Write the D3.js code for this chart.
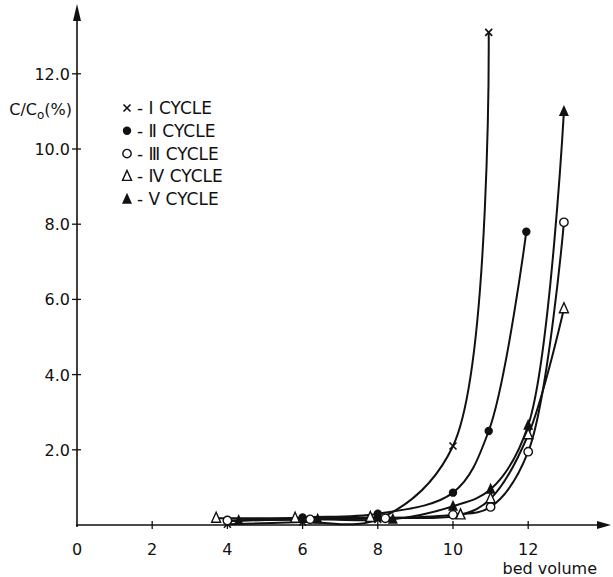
<!DOCTYPE html>
<html>
<head>
<meta charset="utf-8">
<script src="https://cdn.jsdelivr.net/npm/d3@7"></script>
<style>
    body { margin: 0; background: #fff; }
    svg text { font-family: "DejaVu Sans", sans-serif; fill: #111; }
</style>
</head>
<body>
<div id="chart"></div>
<script>
// bed volume / C/Co (%)
const cycle1 = [[4.0, 0.02], [6.0, 0.08], [8.0, 0.15], [10.0, 2.1], [10.95, 13.1]];
const cycle2 = [[4.0, 0.1], [6.0, 0.2], [8.0, 0.3], [10.0, 0.86], [10.95, 2.5], [11.95, 7.8]];
const cycle3 = [[4.0, 0.12], [6.2, 0.15], [8.2, 0.18], [10.0, 0.27], [11.0, 0.48], [12.0, 1.95], [12.95, 8.05]];
const cycle4 = [[3.7, 0.18], [5.8, 0.18], [7.8, 0.2], [10.2, 0.27], [11.0, 0.7], [12.0, 2.4], [12.95, 5.75]];
const cycle5 = [[4.3, 0.12], [6.4, 0.15], [8.4, 0.15], [10.0, 0.5], [11.0, 0.95], [12.0, 2.65], [12.95, 11.0]];

const seriesNames = ["Ⅰ CYCLE", "Ⅱ CYCLE", "Ⅲ CYCLE", "Ⅳ CYCLE", "Ⅴ CYCLE"];
const seriesMarkers = ["cross", "dot", "ring", "openTri", "fillTri"];

const xTicks = [0, 2, 4, 6, 8, 10, 12];
const yTicks = [2, 4, 6, 8, 10, 12];

const xLabel = "bed volume";

const size = { width: 613, height: 577 };

function init() {
    const svg = d3.select("#chart").append("svg")
        .attr("width", size.width)
        .attr("height", size.height);

    // axis origin at (77, 525), ~37.6 px per unit
    const x = d3.scaleLinear().domain([0, 14]).range([77, 77 + 14 * 37.6]);
    const y = d3.scaleLinear().domain([0, 13.8]).range([525, 525 - 13.8 * 37.6]);

    drawAxes(svg, x, y);

    const allSeries = [cycle1, cycle2, cycle3, cycle4, cycle5];
    const line = d3.line()
        .x(d => x(d[0]))
        .y(d => y(d[1]))
        .curve(d3.curveCatmullRom.alpha(0.5));

    allSeries.forEach(series => {
        svg.append("path")
            .datum(series)
            .attr("d", line)
            .attr("fill", "none")
            .attr("stroke", "#111")
            .attr("stroke-width", 2);
    });

    allSeries.forEach((series, i) => {
        series.forEach(d => drawMarker(svg, seriesMarkers[i], x(d[0]), y(d[1])));
    });

    drawLegend(svg);
}

function drawAxes(svg, x, y) {
    const axisColor = "#111";

    // y axis with arrow
    svg.append("line")
        .attr("x1", x(0)).attr("x2", x(0))
        .attr("y1", y(0) + 2).attr("y2", 16)
        .attr("stroke", axisColor).attr("stroke-width", 1.6);
    svg.append("path")
        .attr("d", `M${x(0)},4 L${x(0) - 4},21 L${x(0) + 4},21 Z`)
        .attr("fill", axisColor);

    // x axis with arrow
    svg.append("line")
        .attr("x1", x(0) - 1).attr("x2", 600)
        .attr("y1", y(0)).attr("y2", y(0))
        .attr("stroke", axisColor).attr("stroke-width", 1.6);
    svg.append("path")
        .attr("d", `M611,${y(0)} L597,${y(0) - 4} L597,${y(0) + 4} Z`)
        .attr("fill", axisColor);

    const xg = svg.append("g");
    xTicks.forEach(t => {
        if (t > 0) {
            xg.append("line")
                .attr("x1", x(t)).attr("x2", x(t))
                .attr("y1", y(0) - 4).attr("y2", y(0) + 4)
                .attr("stroke", axisColor).attr("stroke-width", 1.3);
        }
        xg.append("text")
            .attr("x", x(t))
            .attr("y", y(0) + 30)
            .attr("text-anchor", "middle")
            .attr("font-size", 16)
            .text(t);
    });

    const yg = svg.append("g");
    yTicks.forEach(t => {
        yg.append("line")
            .attr("x1", x(0) - 5).attr("x2", x(0) + 4)
            .attr("y1", y(t)).attr("y2", y(t))
            .attr("stroke", axisColor).attr("stroke-width", 1.3);
        yg.append("text")
            .attr("x", x(0) - 7)
            .attr("y", y(t) + 6)
            .attr("text-anchor", "end")
            .attr("font-size", 16)
            .text(t.toFixed(1));
    });

    // axis titles
    const yTitle = svg.append("text")
        .attr("x", 72)
        .attr("y", 115)
        .attr("text-anchor", "end")
        .attr("font-size", 16);
    yTitle.append("tspan").text("C/C");
    yTitle.append("tspan").attr("font-size", 12).attr("dy", 4).text("o");
    yTitle.append("tspan").attr("dy", -4).text("(%)");

    svg.append("text")
        .attr("x", 597)
        .attr("y", 574)
        .attr("text-anchor", "end")
        .attr("font-size", 16)
        .text(xLabel);
}

function drawMarker(svg, type, cx, cy) {
    const g = svg.append("g").attr("transform", `translate(${cx},${cy})`);
    if (type === "cross") {
        g.append("path")
            .attr("d", "M-3.5,-3.5 L3.5,3.5 M-3.5,3.5 L3.5,-3.5")
            .attr("stroke", "#111").attr("stroke-width", 1.6);
    } else if (type === "dot") {
        g.append("circle").attr("r", 4.2).attr("fill", "#111");
    } else if (type === "ring") {
        g.append("circle").attr("r", 4.2)
            .attr("fill", "#fff").attr("stroke", "#111").attr("stroke-width", 1.4);
    } else if (type === "openTri") {
        g.append("path").attr("d", "M0,-6 L-4.5,4 L4.5,4 Z")
            .attr("fill", "#fff").attr("stroke", "#111").attr("stroke-width", 1.4);
    } else {
        g.append("path").attr("d", "M0,-6.5 L-5,4.5 L5,4.5 Z").attr("fill", "#111");
    }
}

function drawLegend(svg) {
    const top = 108;
    const step = 22.8;
    seriesNames.forEach((name, i) => {
        const cy = top + i * step;
        drawMarker(svg, seriesMarkers[i], 127, cy);
        svg.append("text")
            .attr("x", 137)
            .attr("y", cy + 6)
            .attr("font-size", 17)
            .text("- " + name);
    });
}

init();
</script>
</body>
</html>
